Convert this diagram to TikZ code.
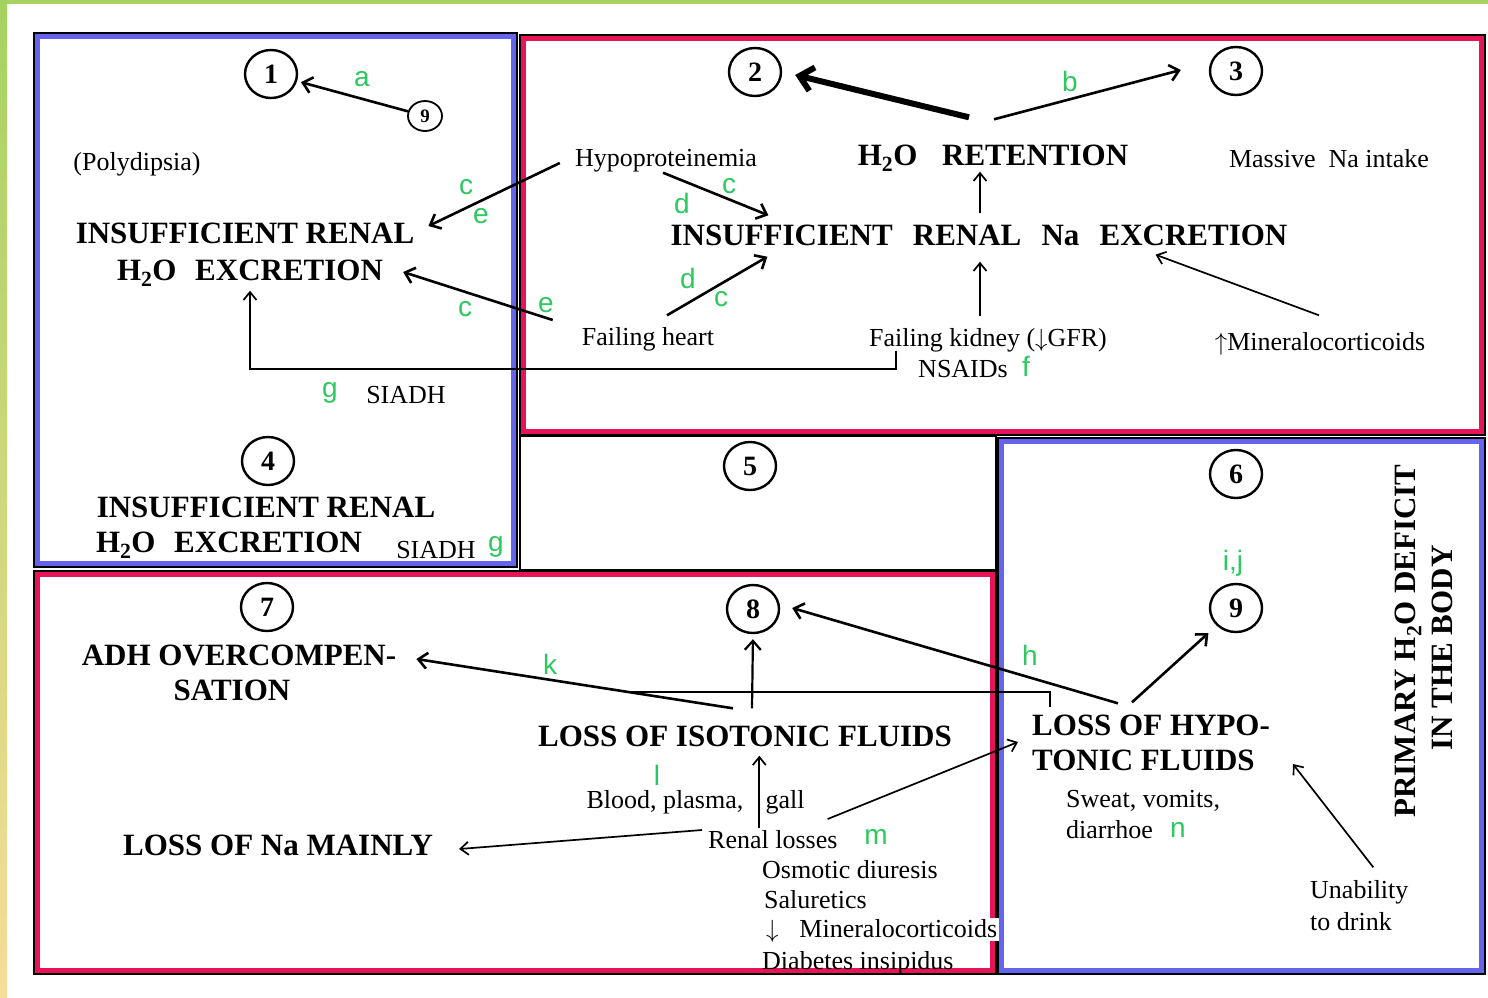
\documentclass[tikz,border=0pt]{standalone}
\usepackage{fontspec}
\setmainfont{Liberation Serif}
\setsansfont{Liberation Sans}
\usetikzlibrary{arrows.meta,positioning,calc,shapes.geometric}

\definecolor{framered}{RGB}{232,20,88}
\definecolor{frameblue}{RGB}{100,100,236}
\definecolor{lettergreen}{RGB}{46,200,96}
\definecolor{stripgreen}{RGB}{166,210,96}
\definecolor{stripyellow}{RGB}{246,221,152}

\begin{document}
\begin{tikzpicture}[x=1pt, y=-1pt,
    num/.style={draw, ellipse, line width=2.4pt, minimum width=52pt, minimum height=48pt, inner sep=0pt, font=\fontsize{28}{28}\selectfont\bfseries},
    numsmall/.style={num, line width=1.8pt, minimum width=34pt, minimum height=30pt, font=\fontsize{19}{19}\selectfont\bfseries},
    head/.style={inner sep=0pt, text height=21pt, text depth=0pt, font=\fontsize{31}{31}\selectfont\bfseries},
    txt/.style={inner sep=0pt, text height=17pt, text depth=0pt, font=\fontsize{26}{26}\selectfont},
    lbl/.style={inner sep=0pt, text=lettergreen, font=\fontsize{28}{28}\selectfont\sffamily},
    arr/.style={-{Straight Barb[length=9pt,width=16pt]}, line width=2.6pt},
    thinarr/.style={-{Straight Barb[length=8pt,width=13pt]}, line width=1.7pt},
    heavyarr/.style={-{Straight Barb[length=13pt,width=24pt]}, line width=6pt},
    frameline/.style={draw=black, line width=2pt},
    panelband/.style={line width=5pt}]

  \useasboundingbox (0,0) rectangle (1488,997);
  \fill[white] (0,0) rectangle (1488,997);
  \fill[stripgreen] (0,0) rectangle (1488,4);
  \shade[top color=stripgreen, bottom color=stripyellow] (0,0) rectangle (7,997);

  % panels
  \draw[frameline] (34,33) rectangle (517,567);
  \draw[frameblue, panelband] (37.5,36.5) rectangle (513.5,563.5);
  \draw[frameline] (520,35) rectangle (1485,435);
  \draw[framered, panelband] (523.5,38.5) rectangle (1481.5,431.5);
  \draw[frameline] (520,436) rectangle (996,570);
  \draw[frameline] (998,438) rectangle (1485,974);
  \draw[frameblue, panelband] (1001.5,441.5) rectangle (1481.5,970.5);
  \draw[frameline] (34,571) rectangle (996,974);
  \draw[framered, panelband] (37.5,574.5) rectangle (992.5,970.5);

  % numbers
  \node[num] (n1) at (271,74) {1};
  \node[numsmall] (n9a) at (425,116) {9};
  \node[num] (n2) at (755,72) {2};
  \node[num] (n3) at (1236,71) {3};
  \node[num] (n4) at (268,461) {4};
  \node[num] (n5) at (750,466) {5};
  \node[num] (n6) at (1236,474) {6};
  \node[num] (n7) at (267,607) {7};
  \node[num] (n8) at (753,609) {8};
  \node[num] (n9) at (1236,608) {9};

  % top left
  \node[txt] (poly) at (137,162) {(Polydipsia)};
  \node[head] (exc1a) at (245,233) {INSUFFICIENT RENAL};
  \node[head] (exc1b) at (250,270) {H\textsubscript{2}O\hspace{.6em}EXCRETION};
  \node[txt] (siadh1) at (406,395) {SIADH};

  % top right
  \node[head] (ret) at (993,155) {H\textsubscript{2}O\hspace{.8em}RETENTION};
  \node[txt] (hypo) at (666,158) {Hypoproteinemia};
  \node[txt] (massive) at (1329,159) {Massive\ \ Na intake};
  \node[head] (ina) at (979,235) {INSUFFICIENT\hspace{.65em}RENAL\hspace{.65em}Na\hspace{.65em}EXCRETION};
  \node[txt] (fheart) at (648,337) {Failing heart};
  \node[txt] (fkid) at (988,338) {Failing kidney ($\downarrow$GFR)};
  \node[txt] (nsaid) at (963,369) {NSAIDs};
  \node[txt] (mineral1) at (1320,342) {$\uparrow$Mineralocorticoids};

  % panel 4
  \node[head] (exc4a) at (266,507) {INSUFFICIENT RENAL};
  \node[head] (exc4b) at (229,542) {H\textsubscript{2}O\hspace{.6em}EXCRETION};
  \node[txt] (siadh4) at (436,550) {SIADH};

  % bottom left
  \node[head] (adh1) at (239,655) {ADH OVERCOMPEN-};
  \node[head] (adh2) at (232,690) {SATION};
  \node[head] (iso) at (745,736) {LOSS OF ISOTONIC FLUIDS};
  \node[head] (namain) at (278,845) {LOSS OF Na MAINLY};
  \node[txt] (blood) at (665,800) {Blood, plasma,};
  \node[txt] (gall) at (785,800) {gall};
  \node[txt, anchor=west] (renal) at (708,840) {Renal losses};
  \node[txt, anchor=west] (osm) at (762,870) {Osmotic diuresis};
  \node[txt, anchor=west] (salu) at (764,900) {Saluretics};
  \node[txt, anchor=west, fill=white, inner xsep=2pt, inner ysep=3pt] (mineral2) at (764,929) {$\downarrow$\hspace{.8em}Mineralocorticoids};
  \node[txt, anchor=west] (diab) at (762,961) {Diabetes insipidus};

  % bottom right
  \node[head, anchor=west] (hypoa) at (1032,725) {LOSS OF HYPO-};
  \node[head, anchor=west] (hypob) at (1032,760) {TONIC FLUIDS};
  \node[txt, anchor=west] (sweat) at (1066,799) {Sweat, vomits,};
  \node[txt, anchor=west] (diarr) at (1066,830) {diarrhoe};
  \node[txt, anchor=west] (unab) at (1310,890) {Unability};
  \node[txt, anchor=west] (drink) at (1310,922) {to drink};
  \node[head, rotate=90] (prim1) at (1405,641) {PRIMARY H\textsubscript{2}O DEFICIT};
  \node[head, rotate=90] (prim2) at (1442,648) {IN THE BODY};

  % green letters
  \node[lbl] (la) at (362,79) {a};
  \node[lbl] (lb) at (1070,81) {b};
  \node[lbl] (lc1) at (466,187) {c};
  \node[lbl] (le1) at (481,216) {e};
  \node[lbl] (lc2) at (465,309) {c};
  \node[lbl] (le2) at (546,305) {e};
  \node[lbl] (lc3) at (729,186) {c};
  \node[lbl] (ld1) at (682,203) {d};
  \node[lbl] (ld2) at (688,278) {d};
  \node[lbl] (lc4) at (721,299) {c};
  \node[lbl] (lf) at (1026,366) {f};
  \node[lbl] (lg1) at (330,393) {g};
  \node[lbl] (lg2) at (496,547) {g};
  \node[lbl] (lij) at (1233,563) {i,j};
  \node[lbl] (lh) at (1030,655) {h};
  \node[lbl] (lk) at (550,664) {k};
  \node[lbl] (ll) at (657,775) {l};
  \node[lbl] (lm) at (876,837) {m};
  \node[lbl] (ln) at (1178,830) {n};

  % connectors, top
  \draw[arr, shorten >=4pt] (n9a) -- (n1);
  \draw[heavyarr] ($(ret.north)+(-24,-27)$) -- ($(n2.east)+(13,3)$);
  \draw[arr] ($(ret.north)+(1,-25)$) -- ($(n3.west)+(-28,-1)$);
  \draw[thinarr] ($(ina.north)+(1,-11)$) -- ($(ina.north |- ret.south)+(1,6)$);
  \draw[arr] ($(hypo.west)+(-15,5)$) -- ($(exc1a.east)+(14,-7)$);
  \draw[arr] ($(fheart.west)+(-29,-17)$) -- ($(exc1b.east)+(20,2)$);
  \draw[arr] ($(hypo.south)+(-3,6)$) -- ($(ina.north west)+(98,-9)$);
  \draw[arr] ($(fheart.north)+(19,-13)$) -- ($(ina.south west)+(97,11)$);
  \draw[thinarr] ($(fkid.north)+(-8,-13)$) -- ($(ina.south)+(1,16)$);
  \draw[thinarr] ($(mineral1.north)+(-1,-18)$) -- ($(ina.south east)+(-132,9)$);
  \draw[thinarr] ($(fkid.south west)+(27,4)$) -- ++(0,18) -| ($(exc1b.south)+(0,10)$);

  % connectors, bottom
  \draw[arr, line width=2.2pt, shorten >=5pt] ($(iso.north)+(7,-17)$) -- (n8.south);
  \draw[arr] ($(iso.north)+(-12,-17)$) -- coordinate[pos=.33] (kjoin) ($(adh1.east)+(20,4)$);
  \draw[line width=2.6pt] ($(hypoa.north west)+(18,-7)$) |- (kjoin);
  \draw[arr] ($(hypoa.north west)+(86,-11)$) -- ($(n8.east)+(12,-1)$);
  \draw[arr, shorten >=11pt] ($(hypoa.north west)+(100,-12)$) -- (n9);
  \draw[thinarr] ($(gall.west |- renal.north)+(-6,-3)$) -- ($(gall.west |- iso.south)+(-6,9)$);
  \draw[thinarr] ($(renal.west)+(-6,-10)$) -- ($(namain.east)+(26,4)$);
  \draw[thinarr] ($(renal.east)+(-10,-21)$) -- ($(hypob.west)+(-14,-18)$);
  \draw[thinarr] ($(unab.north)+(14,-14)$) -- ($(hypob.east)+(38,4)$);
\end{tikzpicture}
\end{document}
